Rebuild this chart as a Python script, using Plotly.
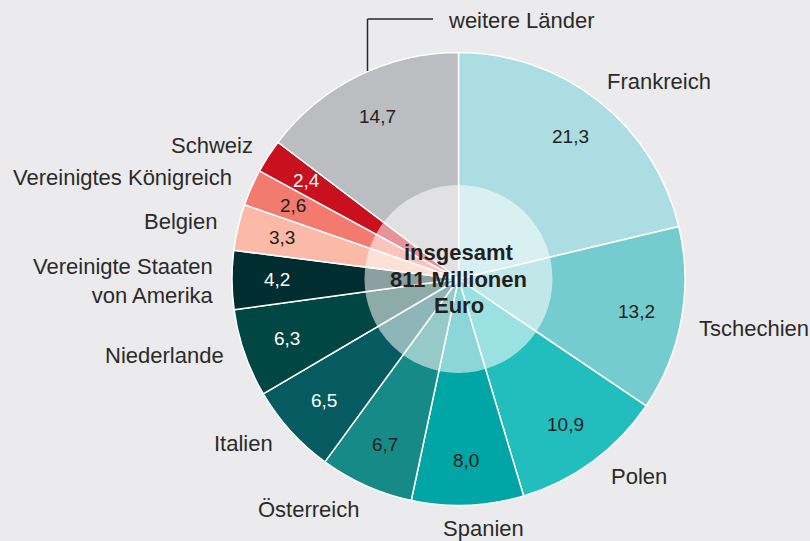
import math
import plotly.graph_objects as go

# Anteile am Gesamtvolumen in Prozent
countries = ["Frankreich", "Tschechien", "Polen", "Spanien", "Österreich", "Italien",
             "Niederlande", "Vereinigte Staaten<br>von Amerika", "Belgien",
             "Vereinigtes Königreich", "Schweiz", "weitere Länder"]
shares = [21.3, 13.2, 10.9, 8.0, 6.7, 6.5, 6.3, 4.2, 3.3, 2.6, 2.4, 14.7]
share_labels = ["21,3", "13,2", "10,9", "8,0", "6,7", "6,5", "6,3", "4,2", "3,3", "2,6", "2,4", "14,7"]
colors = ["#abdde2", "#75cccf", "#22bdbd", "#00a5a6", "#168a87", "#055b60",
          "#004642", "#002d30", "#fbbaa8", "#f37a6e", "#c8101e", "#bcbdc0"]
text_colors = ["#231f20", "#231f20", "#231f20", "#231f20", "#231f20", "#ffffff",
               "#ffffff", "#ffffff", "#231f20", "#231f20", "#ffffff", "#231f20"]
center_lines = ["insgesamt", "811 Millionen", "Euro"]

W, H = 810, 541
CX, CY, R = 458.5, 279.0, 226.5
R_INNER = 94


def px(x):
    return x / W


def py(y):
    return 1 - y / H


fig = go.Figure()
fig.add_trace(go.Pie(
    labels=countries,
    values=shares,
    sort=False,
    direction="clockwise",
    rotation=0,
    textinfo="none",
    hoverinfo="label+value",
    marker=dict(colors=colors, line=dict(color="#ffffff", width=1.5)),
    domain=dict(x=[px(CX - R), px(CX + R)], y=[py(CY + R), py(CY - R)]),
    showlegend=False,
))

# value labels at 80% of the radius, in the middle of each slice
total = sum(shares)
cum = 0.0
annotations = []
for v, lab, tc in zip(shares, share_labels, text_colors):
    theta = 2 * math.pi * (cum + v / 2) / total
    cum += v
    x = CX + 0.8 * R * math.sin(theta)
    y = CY - 0.8 * R * math.cos(theta)
    annotations.append(dict(x=px(x), y=py(y), xref="paper", yref="paper", text=lab,
                            xanchor="center", yanchor="middle",
                            showarrow=False, font=dict(size=19, color=tc)))

# country names: (text, x, y, anchor)
name_pos = [
    ("Frankreich", 605, 81, "left"),
    ("Tschechien", 697, 328, "left"),
    ("Polen", 609, 476, "left"),
    ("Spanien", 441, 528, "left"),
    ("Österreich", 361, 509, "right"),
    ("Italien", 275, 443, "right"),
    ("Niederlande", 226, 355, "right"),
    ("Vereinigte Staaten<br>von Amerika", 216, 281, "right"),
    ("Belgien", 219, 221, "right"),
    ("Vereinigtes Königreich", 234, 178, "right"),
    ("Schweiz", 255, 145, "right"),
    ("weitere Länder", 446, 20, "left"),
]
for t, x, y, anchor in name_pos:
    annotations.append(dict(x=px(x), y=py(y), xref="paper", yref="paper", text=t,
                            showarrow=False, xanchor=anchor, yanchor="middle", align="right",
                            font=dict(size=22, color="#2b2a29")))

for i, line in enumerate(center_lines):
    annotations.append(dict(x=px(CX), y=py(CY - 26 + 26 * i), xref="paper", yref="paper",
                            text=f"<b>{line}</b>", xanchor="center", yanchor="middle",
                            showarrow=False, font=dict(size=22, color="#231f20")))

shapes = [
    dict(type="circle", xref="paper", yref="paper",
         x0=px(CX - R_INNER), x1=px(CX + R_INNER), y0=py(CY + R_INNER), y1=py(CY - R_INNER),
         fillcolor="rgba(255,255,255,0.55)", line=dict(width=0), layer="above"),
    dict(type="line", xref="paper", yref="paper", x0=px(367.5), x1=px(367.5),
         y0=py(71), y1=py(19), line=dict(color="#2b2a29", width=1.5)),
    dict(type="line", xref="paper", yref="paper", x0=px(367.5), x1=px(433),
         y0=py(19), y1=py(19), line=dict(color="#2b2a29", width=1.5)),
]

fig.update_layout(
    width=W, height=H,
    margin=dict(l=0, r=0, t=0, b=0),
    paper_bgcolor="#ebebed",
    plot_bgcolor="#ebebed",
    font=dict(family="Liberation Sans, Arial, sans-serif"),
    annotations=annotations,
    shapes=shapes,
)

fig.write_html("out.html", config={"displayModeBar": False},
               post_script="document.body.style.margin='0';")
